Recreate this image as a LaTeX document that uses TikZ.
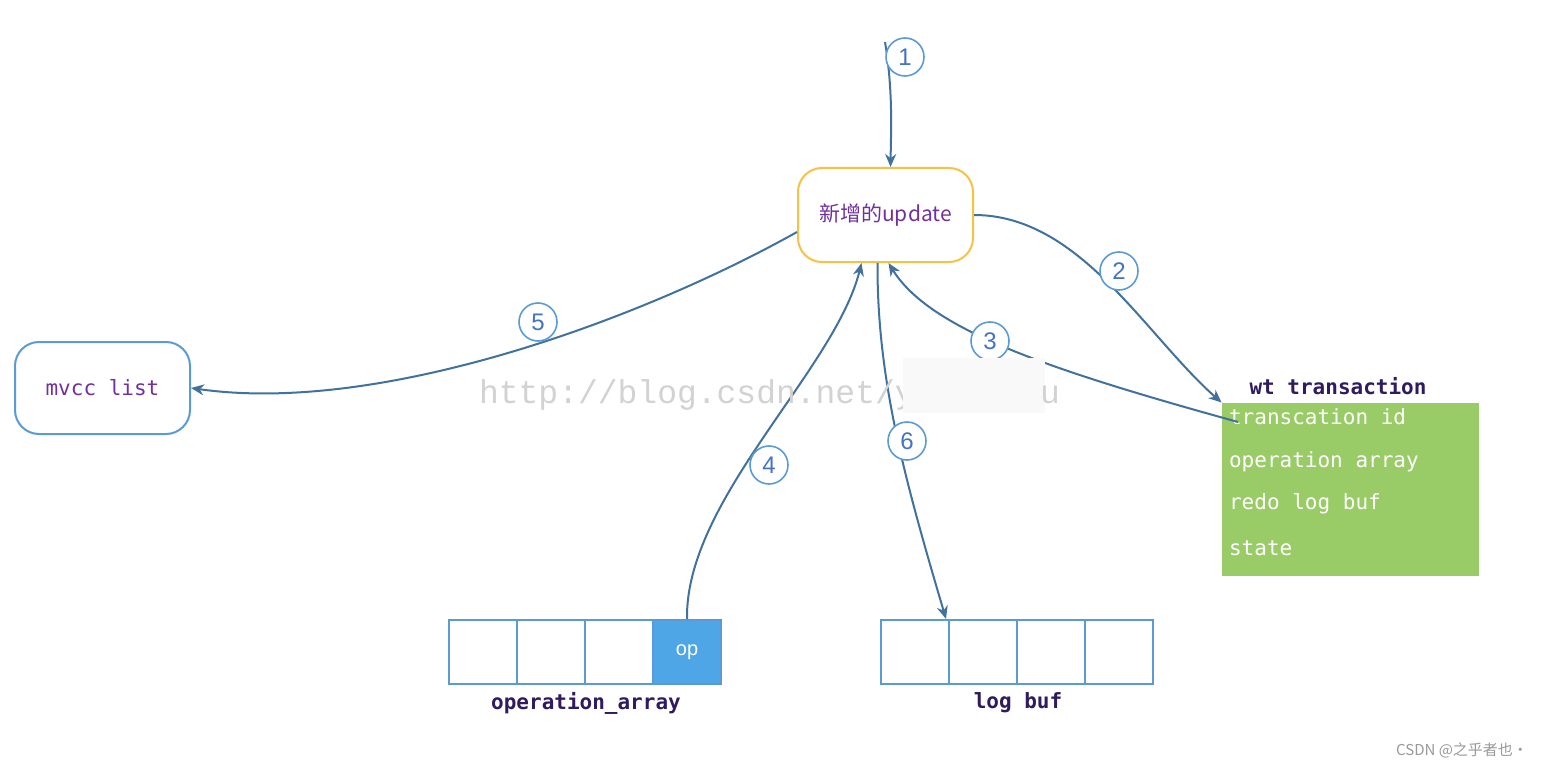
\documentclass[tikz,border=0pt]{standalone}
\usepackage{fontspec}
\setmainfont{Liberation Sans}
\setmonofont{DejaVu Sans Mono}
\newfontfamily\cjk{Noto Sans CJK SC}
\newfontfamily\wmfont{Liberation Mono}
\usetikzlibrary{arrows.meta,positioning,calc}
\definecolor{linkblue}{HTML}{41719C}
\definecolor{ringblue}{HTML}{5B9BD5}
\definecolor{numblue}{HTML}{4472C4}
\definecolor{updorange}{HTML}{F7C244}
\definecolor{txtpurple}{HTML}{7030A0}
\definecolor{wtgreen}{HTML}{99CC66}
\definecolor{opblue}{HTML}{4EA6E6}
\definecolor{lbldark}{HTML}{2F1B5E}
\tikzset{
  step num/.style={circle,draw=ringblue,fill=white,line width=0.8pt,minimum size=19pt,inner sep=0pt,
    text=numblue,font=\fontsize{12}{12}\selectfont},
  cell/.style={draw=ringblue,line width=1pt,minimum width=34pt,minimum height=32pt,inner sep=0pt},
  flow/.style={->,draw=linkblue,line width=1pt},
  arr label/.style={font=\ttfamily\bfseries\fontsize{10.5}{11}\selectfont,text=lbldark}
}

\begin{document}
\begin{tikzpicture}[x=0.5pt,y=-0.5pt,>={Stealth[length=6.5pt,width=5.5pt]}]
  \useasboundingbox (0,0) rectangle (1546,770);

  % the new update
  \node[draw=updorange,line width=1pt,rounded corners=12pt,minimum width=87.5pt,minimum height=47pt,
    text=txtpurple,font=\cjk\fontsize{10.5}{11}\selectfont] (upd) at (885.5,215) {新增的update};

  % mvcc list
  \node[draw=ringblue,line width=1pt,rounded corners=12pt,minimum width=87.5pt,minimum height=46pt,
    text=txtpurple,font=\ttfamily\fontsize{10.5}{11}\selectfont] (mvcc) at (102.5,388) {mvcc list};

  % wt transaction
  \node[fill=wtgreen,minimum width=128.5pt,minimum height=86.5pt,inner sep=0pt] (wt) at (1350.5,489.5) {};
  \node[arr label] (wttitle) at (1338,386) {wt transaction};
  \foreach \n/\y/\t in {tid/417/transcation id, oparr/462/operation array, redo/504/redo log buf, state/548/state}
    \node[anchor=west,text=white,font=\ttfamily\fontsize{10.5}{11}\selectfont] (\n) at (1222,\y) {\t};

  % operation_array and log buf
  \foreach \i in {1,...,4} {
    \node[cell] (oa\i) at ({415+68*\i},652) {};
    \node[cell] (lb\i) at ({847+68*\i},652) {};
  }
  \node[cell,fill=opblue,text=white,font=\fontsize{10}{11}\selectfont] at (oa4) {op};
  \node[arr label,below=0pt of oa2.south east] (oalbl) {operation\_array};
  \node[arr label,below=0pt of lb2.south east] (lblbl) {log buf};

  % connectors
  \coordinate (start) at (885,42);
  \draw[flow] (start) .. controls (893,90) and (891,130) .. ([xshift=2.5pt]upd.north);
  \draw[flow] (upd.east) .. controls (1080,215) and (1145,335) .. (wt.north west);
  \draw[flow] ($(tid.west)+(16,5)$) .. controls (1050,370) and (930,330) .. ([xshift=1.5pt]upd.south);
  \draw[flow] (oa4.north) .. controls (685,500) and (835,370) .. ([xshift=-12pt]upd.south);
  \draw[flow] ([yshift=-8.5pt]upd.west) .. controls (640,320) and (380,415) .. (mvcc.east);
  \draw[flow] ([xshift=-4pt]upd.south) .. controls (877,380) and (905,480) .. ([xshift=-2pt]lb1.north east);

  % step numbers
  \foreach \i/\x/\y in {1/905/57, 2/1119/271, 3/990/341, 4/769/465, 5/538/322, 6/907/441}
    \node[step num] (c\i) at (\x,\y) {\i};

  % watermarks
  \node[anchor=west,text=gray!35,font=\wmfont\fontsize{16.5}{17}\selectfont] (wm) at (472,395) {http://blog.csdn.net/y};
  \fill[gray!5] (903,358) rectangle (1045,413);
  \node[anchor=west,text=gray!35,font=\wmfont\fontsize{16.5}{17}\selectfont] (wmu) at (1033,395) {u};
  \node[anchor=east,text=gray!80,font=\cjk\fontsize{7.5}{8}\selectfont] (csdn) at (1535,750) {CSDN @之乎者也·};
\end{tikzpicture}
\end{document}
